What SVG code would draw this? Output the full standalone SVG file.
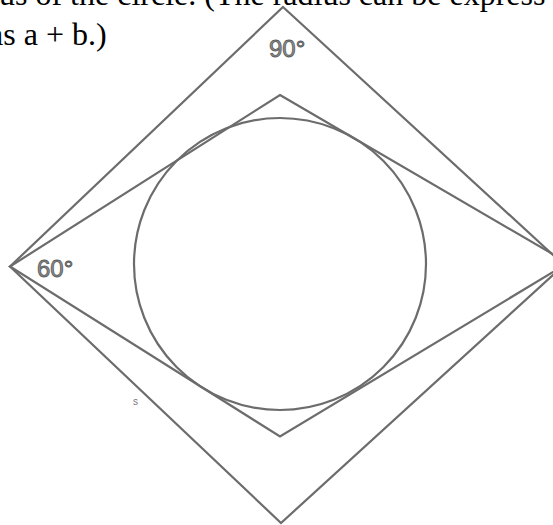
<svg xmlns="http://www.w3.org/2000/svg" width="553" height="525" viewBox="0 0 553 525">
  <style>
    .ln { fill: none; stroke: #6c6c6c; stroke-width: 2.2; stroke-linejoin: miter; }
    .body { font-family: "Liberation Serif", "Times New Roman", serif; font-size: 32px; fill: #000; }
    .ang { font-family: "Liberation Sans", Arial, sans-serif; font-size: 24px; fill: #8c8c8c; stroke: #5a5a5a; stroke-width: 0.8; }
  </style>
  <rect width="553" height="525" fill="#fff"/>
  <g id="caption">
    <text class="body" x="-1" y="4.5">us of the circle. (The radius can be express</text>
    <text class="body" x="-10.9" y="45">as a + b.)</text>
  </g>
  <g id="outer-square">
    <polygon class="ln" points="283,7 564,265 281,523 10,266.5"/>
  </g>
  <g id="inner-rhombus">
    <polygon class="ln" points="280,95 568,263 280,436.5 10,266.5"/>
  </g>
  <g id="circle">
    <circle class="ln" cx="280" cy="264" r="146"/>
  </g>
  <g id="labels">
    <text class="ang" x="269" y="57">90°</text>
    <text class="ang" x="37" y="277">60°</text>
    <text x="133" y="405" font-family="Liberation Sans, Arial, sans-serif" font-size="10" fill="#777">s</text>
  </g>
</svg>
